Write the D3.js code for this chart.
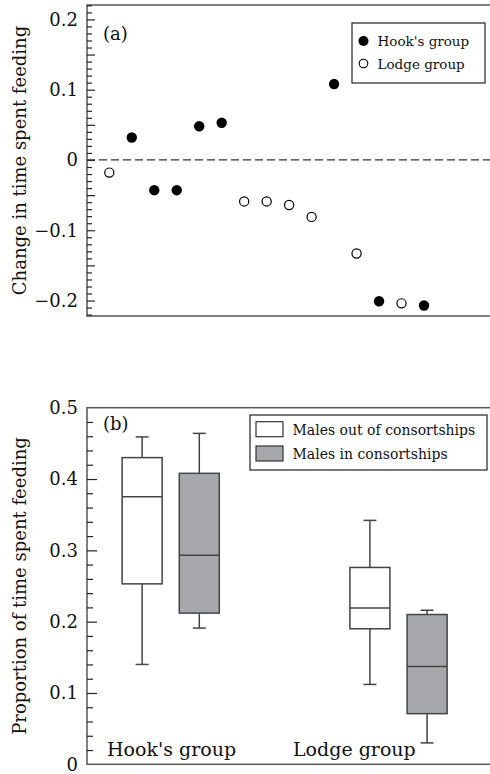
<!DOCTYPE html>
<html>
<head>
<meta charset="utf-8">
<script src="https://cdn.jsdelivr.net/npm/d3@7"></script>
<style>
  html, body { margin: 0; padding: 0; background: #fff; }
  svg { display: block; }
  text { font-family: "DejaVu Serif", "Liberation Serif", serif; fill: #111; }
</style>
</head>
<body>
<svg id="chart" width="490" height="774"></svg>
<script>
// ---------- Panel (a) data ----------
const individualsA = [1, 2, 3, 4, 5, 6, 7, 8, 9, 10, 11, 12, 13, 14, 15];
const groupA = ["Lodge", "Hook", "Hook", "Hook", "Hook", "Hook", "Lodge", "Lodge", "Lodge", "Lodge", "Hook", "Lodge", "Hook", "Lodge", "Hook"];
const changeA = [-0.018, 0.032, -0.043, -0.043, 0.048, 0.053, -0.059, -0.059, -0.064, -0.081, 0.108, -0.133, -0.201, -0.204, -0.207];
const tickValuesA = [0.2, 0.1, 0, -0.1, -0.2];
const tickLabelsA = ["0.2", "0.1", "0", "\u22120.1", "\u22120.2"];
const legendA = ["Hook's group", "Lodge group"];

// ---------- Panel (b) data ----------
const groupsB = ["Hook's group", "Lodge group"];
const seriesB = ["Males out of consortships", "Males in consortships"];
// [whiskerLow, Q1, median, Q3, whiskerHigh] per group, per series
const outConsort = [[0.140, 0.253, 0.375, 0.430, 0.459], [0.112, 0.190, 0.219, 0.276, 0.342]];
const inConsort  = [[0.191, 0.212, 0.293, 0.408, 0.464], [0.030, 0.071, 0.137, 0.210, 0.216]];
const tickValuesB = [0, 0.1, 0.2, 0.3, 0.4, 0.5];
const tickLabelsB = ["0", "0.1", "0.2", "0.3", "0.4", "0.5"];

const svg = d3.select("#chart");
const frameColor = "#555";
const markColor = "#444";
const grayFill = "#a7a8ab";

// ================= Panel (a) =================
const A = { left: 87, right: 495, top: 5, bottom: 316 };
const xA = d3.scaleLinear().domain([1, 15]).range([109.3, 424]);
const yA = d3.scaleLinear().domain([-0.222, 0.2205]).range([A.bottom, A.top]);

const gA = svg.append("g");
gA.append("rect").attr("x", A.left).attr("y", A.top)
  .attr("width", A.right - A.left).attr("height", A.bottom - A.top)
  .attr("fill", "none").attr("stroke", frameColor).attr("stroke-width", 1.5);

// minor ticks every 0.01, longer every 0.05
const minorA = d3.range(-22, 23).map(i => i / 100).filter(v => Math.abs(Math.round(v * 100) % 5) !== 0);
const majorA = d3.range(-4, 5).map(i => i * 0.05);
gA.append("g").attr("transform", `translate(${A.left},0)`)
  .call(d3.axisRight(yA).tickValues(minorA).tickSize(5).tickFormat(""))
  .call(g => g.select(".domain").remove())
  .call(g => g.selectAll("line").attr("stroke", "#222").attr("stroke-width", 1.2));
gA.append("g").attr("transform", `translate(${A.left},0)`)
  .call(d3.axisRight(yA).tickValues(majorA).tickSize(8).tickFormat(""))
  .call(g => g.select(".domain").remove())
  .call(g => g.selectAll("line").attr("stroke", "#222").attr("stroke-width", 1.2));
gA.append("g").attr("transform", `translate(${A.left},0)`)
  .call(d3.axisLeft(yA).tickValues(tickValuesA).tickSize(0).tickPadding(9)
        .tickFormat((d, i) => tickLabelsA[i]))
  .call(g => g.select(".domain").remove())
  .call(g => g.selectAll("text").style("font-family", "DejaVu Serif").style("font-size", "18px").attr("fill", "#111"));

// zero dashed line
gA.append("line").attr("x1", A.left).attr("x2", A.right)
  .attr("y1", yA(0)).attr("y2", yA(0))
  .attr("stroke", "#333").attr("stroke-width", 1.2).attr("stroke-dasharray", "8,4");

// points
gA.selectAll("circle.pt").data(individualsA).join("circle")
  .attr("class", "pt")
  .attr("cx", (d) => xA(d))
  .attr("cy", (d, i) => yA(changeA[i]))
  .attr("r", (d, i) => groupA[i] === "Hook" ? 5.2 : 4.6)
  .attr("fill", (d, i) => groupA[i] === "Hook" ? "#000" : "#fff")
  .attr("stroke", "#000").attr("stroke-width", (d, i) => groupA[i] === "Hook" ? 0 : 1.2);

gA.append("text").attr("x", 103).attr("y", 33).attr("dominant-baseline", "central")
  .style("font-size", "18px").text("(a)");

// y title
svg.append("text")
  .attr("transform", `translate(19,${(A.top + A.bottom) / 2}) rotate(-90)`)
  .attr("text-anchor", "middle").attr("dominant-baseline", "central")
  .style("font-size", "18px").text("Change in time spent feeding");

// legend (a)
const legA = gA.append("g");
legA.append("rect").attr("x", 352).attr("y", 23).attr("width", 133).attr("height", 60)
  .attr("fill", "#fff").attr("stroke", "#222").attr("stroke-width", 1.2);
legendA.forEach((name, i) => {
  const cy = 41 + i * 22.5;
  legA.append("circle").attr("cx", 363.5).attr("cy", cy)
    .attr("r", i === 0 ? 5 : 4.3)
    .attr("fill", i === 0 ? "#000" : "#fff").attr("stroke", "#000").attr("stroke-width", i === 0 ? 0 : 1.1);
  legA.append("text").attr("x", 377.5).attr("y", cy).attr("dominant-baseline", "central")
    .style("font-size", "13.5px").text(name);
});

// ================= Panel (b) =================
const B = { left: 87, right: 495, top: 407.7, bottom: 764.3 };
const yB = d3.scaleLinear().domain([0, 0.5]).range([B.bottom, B.top]);
const xB = d3.scalePoint().domain(groupsB).range([170.7, 398.5]);
const xSub = d3.scaleBand().domain(seriesB).range([-48.6, 48.6]).paddingInner(0.3).paddingOuter(0);

const gB = svg.append("g");
gB.append("rect").attr("x", B.left).attr("y", B.top)
  .attr("width", B.right - B.left).attr("height", B.bottom - B.top)
  .attr("fill", "none").attr("stroke", frameColor).attr("stroke-width", 1.5);

const minorB = d3.range(1, 25).map(i => i * 0.02).filter(v => Math.abs(Math.round(v * 100) % 10) !== 0);
const majorB = tickValuesB.slice(1, 5);
gB.append("g").attr("transform", `translate(${B.left},0)`)
  .call(d3.axisRight(yB).tickValues(minorB).tickSize(6).tickFormat(""))
  .call(g => g.select(".domain").remove())
  .call(g => g.selectAll("line").attr("stroke", "#222").attr("stroke-width", 1.2));
gB.append("g").attr("transform", `translate(${B.left},0)`)
  .call(d3.axisRight(yB).tickValues(majorB).tickSize(10).tickFormat(""))
  .call(g => g.select(".domain").remove())
  .call(g => g.selectAll("line").attr("stroke", "#222").attr("stroke-width", 1.2));
gB.append("g").attr("transform", `translate(${B.left},0)`)
  .call(d3.axisLeft(yB).tickValues(tickValuesB).tickSize(0).tickPadding(9)
        .tickFormat((d, i) => tickLabelsB[i]))
  .call(g => g.select(".domain").remove())
  .call(g => g.selectAll("text").style("font-family", "DejaVu Serif").style("font-size", "18px").attr("fill", "#111"));

// boxes
const boxData = [];
groupsB.forEach((grp, gi) => {
  seriesB.forEach((ser, si) => {
    const v = si === 0 ? outConsort[gi] : inConsort[gi];
    boxData.push({ grp, ser, si, lo: v[0], q1: v[1], med: v[2], q3: v[3], hi: v[4] });
  });
});
const bw = xSub.bandwidth();
const capW = 13;
const boxes = gB.selectAll("g.box").data(boxData).join("g").attr("class", "box")
  .attr("transform", d => `translate(${xB(d.grp) + xSub(d.ser)},0)`);
boxes.append("line").attr("x1", bw / 2).attr("x2", bw / 2)
  .attr("y1", d => yB(d.q3)).attr("y2", d => yB(d.hi))
  .attr("stroke", markColor).attr("stroke-width", 1.5);
boxes.append("line").attr("x1", bw / 2).attr("x2", bw / 2)
  .attr("y1", d => yB(d.q1)).attr("y2", d => yB(d.lo))
  .attr("stroke", markColor).attr("stroke-width", 1.5);
boxes.append("line").attr("x1", bw / 2 - capW / 2).attr("x2", bw / 2 + capW / 2)
  .attr("y1", d => yB(d.hi)).attr("y2", d => yB(d.hi))
  .attr("stroke", markColor).attr("stroke-width", 1.5);
boxes.append("line").attr("x1", bw / 2 - capW / 2).attr("x2", bw / 2 + capW / 2)
  .attr("y1", d => yB(d.lo)).attr("y2", d => yB(d.lo))
  .attr("stroke", markColor).attr("stroke-width", 1.5);
boxes.append("rect").attr("x", 0).attr("width", bw)
  .attr("y", d => yB(d.q3)).attr("height", d => yB(d.q1) - yB(d.q3))
  .attr("fill", d => d.si === 0 ? "#fff" : grayFill)
  .attr("stroke", markColor).attr("stroke-width", 1.5);
boxes.append("line").attr("x1", 0).attr("x2", bw)
  .attr("y1", d => yB(d.med)).attr("y2", d => yB(d.med))
  .attr("stroke", markColor).attr("stroke-width", 1.5);

// group labels
gB.append("text").attr("x", 107).attr("y", 756).style("font-size", "19px").text(groupsB[0]);
gB.append("text").attr("x", 293).attr("y", 756).style("font-size", "19px").text(groupsB[1]);

gB.append("text").attr("x", 103).attr("y", 423.5).attr("dominant-baseline", "central")
  .style("font-size", "18px").text("(b)");

svg.append("text")
  .attr("transform", `translate(19,${(B.top + B.bottom) / 2}) rotate(-90)`)
  .attr("text-anchor", "middle").attr("dominant-baseline", "central")
  .style("font-size", "18px").text("Proportion of time spent feeding");

// legend (b)
const legB = gB.append("g");
legB.append("rect").attr("x", 250).attr("y", 415).attr("width", 237).attr("height", 55)
  .attr("fill", "#fff").attr("stroke", "#222").attr("stroke-width", 1.2);
seriesB.forEach((name, i) => {
  const y0 = 421.7 + i * 24.3;
  legB.append("rect").attr("x", 256).attr("y", y0).attr("width", 27).attr("height", 15)
    .attr("fill", i === 0 ? "#fff" : grayFill).attr("stroke", "#333").attr("stroke-width", 1.2);
  legB.append("text").attr("x", 292.5).attr("y", y0 + 8).attr("dominant-baseline", "central")
    .style("font-size", "14px").text(name);
});
</script>
</body>
</html>
